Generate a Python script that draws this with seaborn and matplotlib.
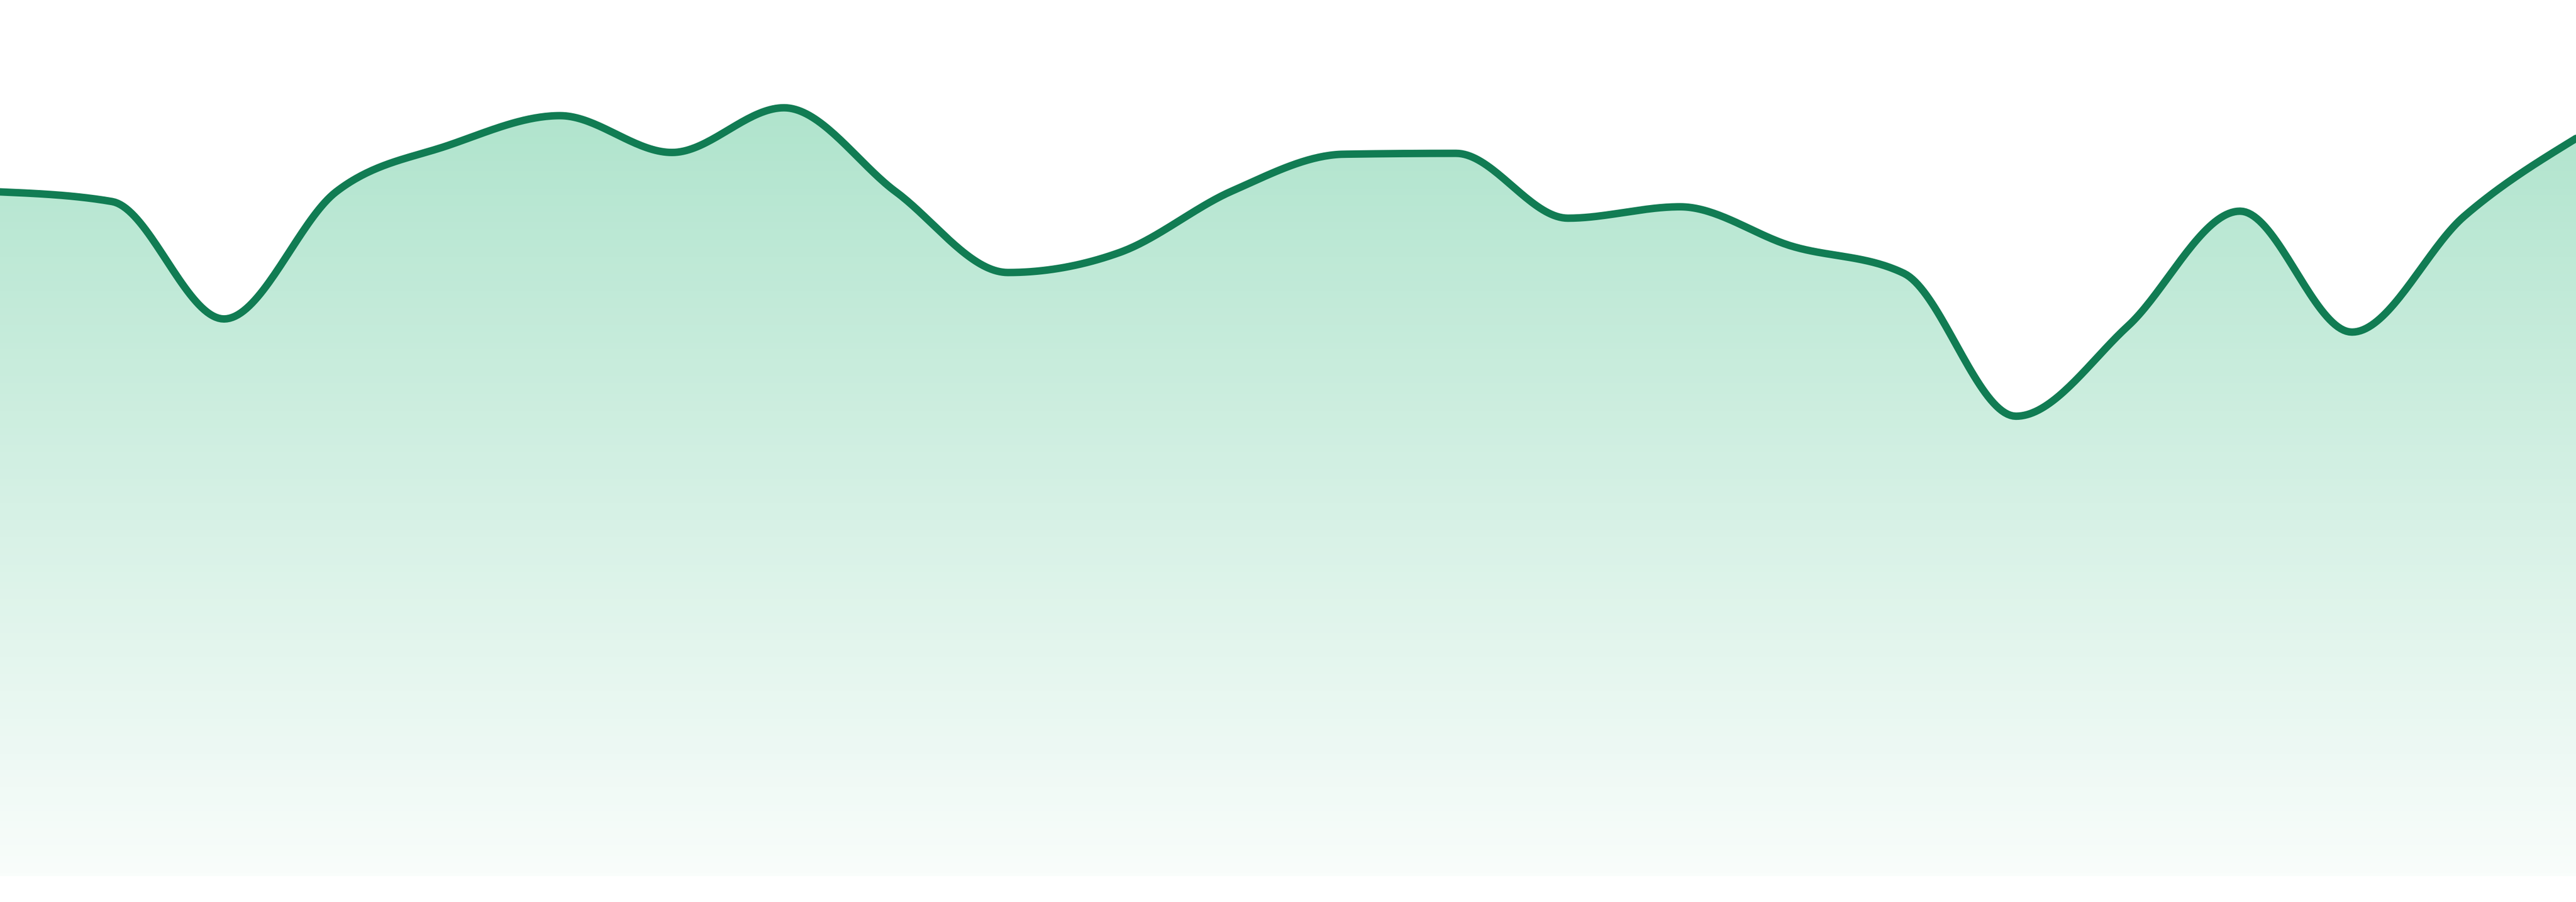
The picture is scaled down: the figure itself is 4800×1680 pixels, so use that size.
import numpy as np
import pandas as pd
import matplotlib
matplotlib.use("Agg")
import matplotlib.pyplot as plt
import seaborn as sns
from matplotlib.colors import to_rgb

# values (0-100 scale, 24 evenly spaced points)
steps = list(range(24))
values = [78.1, 77.0, 63.6, 78.1, 83.4, 86.8, 82.6, 87.7,
          78.1, 68.9, 71.2, 78.2, 82.4, 82.5, 75.1, 76.4,
          71.9, 68.8, 52.5, 62.8, 75.9, 62.1, 75.3, 84.2]

line_color = "#117c53"
fill_color = "#2eb87b"


def monotone_x(x, y, n=40):
    # monotone cubic interpolation (same slopes as d3.curveMonotoneX)
    x = np.asarray(x, float)
    y = np.asarray(y, float)
    h = np.diff(x)
    s = np.diff(y) / h
    t = np.zeros_like(y)
    for i in range(1, len(y) - 1):
        s0, s1 = s[i - 1], s[i]
        p = (s0 * h[i] + s1 * h[i - 1]) / (h[i - 1] + h[i])
        t[i] = (np.sign(s0) + np.sign(s1)) * min(abs(s0), abs(s1), 0.5 * abs(p))
    t[0] = (3 * s[0] - t[1]) / 2
    t[-1] = (3 * s[-1] - t[-2]) / 2
    xs, ys = [], []
    for i in range(len(h)):
        u = np.linspace(0, 1, n, endpoint=(i == len(h) - 1))
        h00 = 2 * u**3 - 3 * u**2 + 1
        h10 = u**3 - 2 * u**2 + u
        h01 = -2 * u**3 + 3 * u**2
        h11 = u**3 - u**2
        xs.append(x[i] + u * h[i])
        ys.append(h00 * y[i] + h10 * h[i] * t[i] + h01 * y[i + 1] + h11 * h[i] * t[i + 1])
    return np.concatenate(xs), np.concatenate(ys)


sx, sy = monotone_x(steps, values)
curve = pd.DataFrame({"step": sx, "value": sy})

sns.set_style("white")
fig = plt.figure(figsize=(48, 16.8), dpi=100)
ax = fig.add_axes([0, 48 / 1680, 1, 1632 / 1680])
ax.set_xlim(0, 23)
ax.set_ylim(0, 100)
ax.axis("off")

# area with vertical gradient
poly = ax.fill_between(curve["step"], curve["value"], 0, color="none", lw=0)
r, g, b = to_rgb(fill_color)
grad = np.zeros((256, 1, 4))
grad[:, 0, 0] = r
grad[:, 0, 1] = g
grad[:, 0, 2] = b
grad[:, 0, 3] = np.linspace(0.03, 0.43, 256)
img = ax.imshow(grad, extent=[0, 23, 0, 100], aspect="auto", origin="lower", zorder=1)
img.set_clip_path(poly.get_paths()[0], transform=ax.transData)

sns.lineplot(data=curve, x="step", y="value", ax=ax, color=line_color,
             linewidth=10, sort=False, zorder=3)

fig.savefig("out.png", dpi=100, facecolor="white")
